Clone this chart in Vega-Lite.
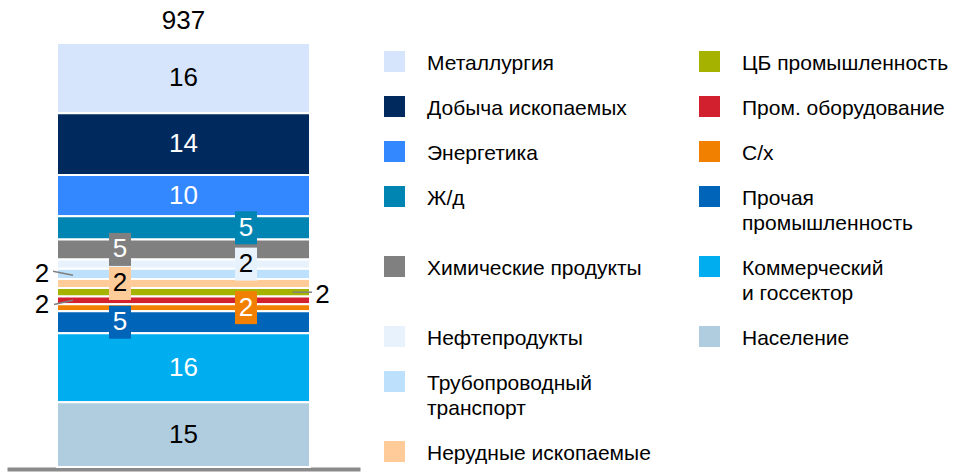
{
  "$schema": "https://vega.github.io/schema/vega-lite/v6.json",
  "width": 353,
  "height": 424,
  "autosize": {"type": "none"},
  "padding": {"left": 7, "top": 43, "right": 601, "bottom": 7},
  "background": "white",
  "config": {
    "view": {"stroke": null},
    "font": "Liberation Sans",
    "style": {"guide-label": {"dy": -8.5, "lineHeight": 25}}
  },
  "datasets": {
    "shares": [
      {"group": "Всего", "sector": "Металлургия", "share": 16.49},
      {"group": "Всего", "sector": "Добыча ископаемых", "share": 14.49},
      {"group": "Всего", "sector": "Энергетика", "share": 9.7},
      {"group": "Всего", "sector": "Ж/д", "share": 5.45},
      {"group": "Всего", "sector": "Химические продукты", "share": 4.7},
      {"group": "Всего", "sector": "Нефтепродукты", "share": 2.2},
      {"group": "Всего", "sector": "Трубопроводный транспорт", "share": 2.4},
      {"group": "Всего", "sector": "Нерудные ископаемые", "share": 2.1},
      {"group": "Всего", "sector": "ЦБ промышленность", "share": 2.0},
      {"group": "Всего", "sector": "Пром. оборудование", "share": 1.8},
      {"group": "Всего", "sector": "С/х", "share": 1.65},
      {"group": "Всего", "sector": "Прочая промышленность", "share": 5.2},
      {"group": "Всего", "sector": "Коммерческий и госсектор", "share": 16.2},
      {"group": "Всего", "sector": "Население", "share": 15.2}
    ],
    "totals": [{"group": "Всего", "total": 937}]
  },
  "data": {"name": "shares"},
  "transform": [
    {"window": [{"op": "row_number", "as": "idx"}]},
    {"stack": "share", "groupby": ["group"], "sort": [{"field": "idx", "order": "descending"}], "as": ["y0", "y1"]},
    {"calculate": "(datum.y0 + datum.y1) / 2", "as": "mid"}
  ],
  "encoding": {
    "x": {"field": "group", "type": "nominal", "axis": {"labels": false, "ticks": false, "title": null, "domainColor": "#8a8a8a", "domainWidth": 4, "offset": 2, "grid": false}}
  },
  "layer": [
    {
      "mark": {"type": "bar", "width": 253, "stroke": "white", "strokeWidth": 2},
      "encoding": {
        "y": {"field": "y0", "type": "quantitative", "axis": null, "scale": {"zero": true, "nice": false}},
        "y2": {"field": "y1"},
        "color": {
          "field": "sector",
          "type": "nominal",
          "scale": {
            "domain": ["Металлургия", "Добыча ископаемых", "Энергетика", "Ж/д", "Химические продукты", "Нефтепродукты", "Трубопроводный транспорт", "Нерудные ископаемые", "ЦБ промышленность", "Пром. оборудование", "С/х", "Прочая промышленность", "Коммерческий и госсектор", "Население", "_1", "_2"],
            "range": ["#D6E4FC", "#002A5E", "#3388FF", "#0085B2", "#808080", "#E7F2FD", "#BDE0FC", "#FFCC99", "#A5B200", "#D2202F", "#F28000", "#0064B8", "#00AEEF", "#B0CDE0", "#FFFFFF", "#FFFFFF"]
          },
          "legend": {
            "title": null,
            "orient": "none",
            "legendX": 377,
            "legendY": 8,
            "columns": 2,
            "columnPadding": 48,
            "rowPadding": 22,
            "padding": 0,
            "symbolType": "square",
            "symbolSize": 441,
            "symbolStrokeWidth": 0,
            "symbolOpacity": 1,
            "labelFont": "Liberation Sans",
            "labelFontSize": 21,
            "labelColor": "#000000",
            "labelOffset": 22,
            "labelBaseline": "top",
            "labelLimit": 400,
            "labelExpr": "datum.label == 'Трубопроводный транспорт' ? ['Трубопроводный', 'транспорт'] : datum.label == 'Прочая промышленность' ? ['Прочая', 'промышленность'] : datum.label == 'Коммерческий и госсектор' ? ['Коммерческий', 'и госсектор'] : (datum.label == '_1' || datum.label == '_2') ? '' : datum.label"
          }
        }
      }
    },
    {
      "transform": [{"filter": {"field": "sector", "oneOf": ["Металлургия", "Добыча ископаемых", "Энергетика", "Коммерческий и госсектор", "Население"]}}],
      "mark": {"type": "text", "font": "Liberation Sans", "fontSize": 26, "baseline": "middle"},
      "encoding": {
        "y": {"field": "mid", "type": "quantitative", "axis": null},
        "text": {"field": "share", "type": "quantitative", "format": ".0f"},
        "color": {"condition": {"test": "datum.sector == 'Добыча ископаемых' || datum.sector == 'Энергетика' || datum.sector == 'Коммерческий и госсектор'", "value": "#FFFFFF"}, "value": "#000000"}
      }
    },
    {
      "transform": [{"filter": {"field": "sector", "oneOf": ["Химические продукты", "Нерудные ископаемые", "Прочая промышленность"]}}],
      "mark": {"type": "tick", "size": 22, "thickness": 33, "orient": "horizontal", "xOffset": -63.5, "opacity": 1},
      "encoding": {
        "y": {"field": "mid", "type": "quantitative", "axis": null},
        "color": {"field": "sector", "type": "nominal"}
      }
    },
    {
      "transform": [{"filter": {"field": "sector", "oneOf": ["Химические продукты", "Нерудные ископаемые", "Прочая промышленность"]}}],
      "mark": {"type": "text", "font": "Liberation Sans", "fontSize": 26, "baseline": "middle", "dx": -63.5},
      "encoding": {
        "y": {"field": "mid", "type": "quantitative", "axis": null},
        "text": {"field": "share", "type": "quantitative", "format": ".0f"},
        "color": {"condition": {"test": "datum.sector == 'Нерудные ископаемые'", "value": "#000000"}, "value": "#FFFFFF"}
      }
    },
    {
      "transform": [{"filter": {"field": "sector", "oneOf": ["Ж/д", "Нефтепродукты", "С/х"]}}],
      "mark": {"type": "tick", "size": 22, "thickness": 33, "orient": "horizontal", "xOffset": 62.5, "opacity": 1},
      "encoding": {
        "y": {"field": "mid", "type": "quantitative", "axis": null},
        "color": {"field": "sector", "type": "nominal"}
      }
    },
    {
      "transform": [{"filter": {"field": "sector", "oneOf": ["Ж/д", "Нефтепродукты", "С/х"]}}],
      "mark": {"type": "text", "font": "Liberation Sans", "fontSize": 26, "baseline": "middle", "dx": 62.5},
      "encoding": {
        "y": {"field": "mid", "type": "quantitative", "axis": null},
        "text": {"field": "share", "type": "quantitative", "format": ".0f"},
        "color": {"condition": {"test": "datum.sector == 'Нефтепродукты'", "value": "#000000"}, "value": "#FFFFFF"}
      }
    },
    {
      "transform": [{"filter": {"field": "sector", "equal": "Трубопроводный транспорт"}}],
      "mark": {"type": "text", "font": "Liberation Sans", "fontSize": 26, "baseline": "middle", "dx": -141.5, "dy": 0, "color": "#000000"},
      "encoding": {
        "y": {"field": "mid", "type": "quantitative", "axis": null},
        "text": {"field": "share", "type": "quantitative", "format": ".0f"}
      }
    },
    {
      "transform": [{"filter": {"field": "sector", "equal": "Пром. оборудование"}}],
      "mark": {"type": "text", "font": "Liberation Sans", "fontSize": 26, "baseline": "middle", "dx": -141.5, "dy": 5, "color": "#000000"},
      "encoding": {
        "y": {"field": "mid", "type": "quantitative", "axis": null},
        "text": {"field": "share", "type": "quantitative", "format": ".0f"}
      }
    },
    {
      "transform": [{"filter": {"field": "sector", "equal": "ЦБ промышленность"}}],
      "mark": {"type": "text", "font": "Liberation Sans", "fontSize": 26, "baseline": "middle", "dx": 139, "dy": 2.5, "color": "#000000"},
      "encoding": {
        "y": {"field": "mid", "type": "quantitative", "axis": null},
        "text": {"field": "share", "type": "quantitative", "format": ".0f"}
      }
    },
    {
      "transform": [{"filter": {"field": "sector", "equal": "Трубопроводный транспорт"}}],
      "mark": {"type": "point", "shape": "M-1,-0.2L1,0.2", "size": 400, "filled": false, "color": "#808080", "strokeWidth": 1.5, "opacity": 1, "xOffset": -120.5, "yOffset": -0.7},
      "encoding": {
        "y": {"field": "mid", "type": "quantitative", "axis": null}
      }
    },
    {
      "transform": [{"filter": {"field": "sector", "equal": "Пром. оборудование"}}],
      "mark": {"type": "point", "shape": "M-1,0.22L1,-0.22", "size": 361, "filled": false, "color": "#808080", "strokeWidth": 1.5, "opacity": 1, "xOffset": -120, "yOffset": 2},
      "encoding": {
        "y": {"field": "mid", "type": "quantitative", "axis": null}
      }
    },
    {
      "transform": [{"filter": {"field": "sector", "equal": "ЦБ промышленность"}}],
      "mark": {"type": "point", "shape": "M-1,0L1,0", "size": 376, "filled": false, "color": "#808080", "strokeWidth": 1.5, "opacity": 1, "xOffset": 118.8, "yOffset": 0},
      "encoding": {
        "y": {"field": "mid", "type": "quantitative", "axis": null}
      }
    },
    {
      "transform": [
        {"aggregate": [{"op": "max", "field": "y1", "as": "top"}], "groupby": ["group"]},
        {"lookup": "group", "from": {"data": {"name": "totals"}, "key": "group", "fields": ["total"]}}
      ],
      "mark": {"type": "text", "font": "Liberation Sans", "fontSize": 26, "baseline": "alphabetic", "dy": -14, "color": "#000000"},
      "encoding": {
        "y": {"field": "top", "type": "quantitative", "axis": null},
        "text": {"field": "total", "type": "quantitative"}
      }
    }
  ]
}
